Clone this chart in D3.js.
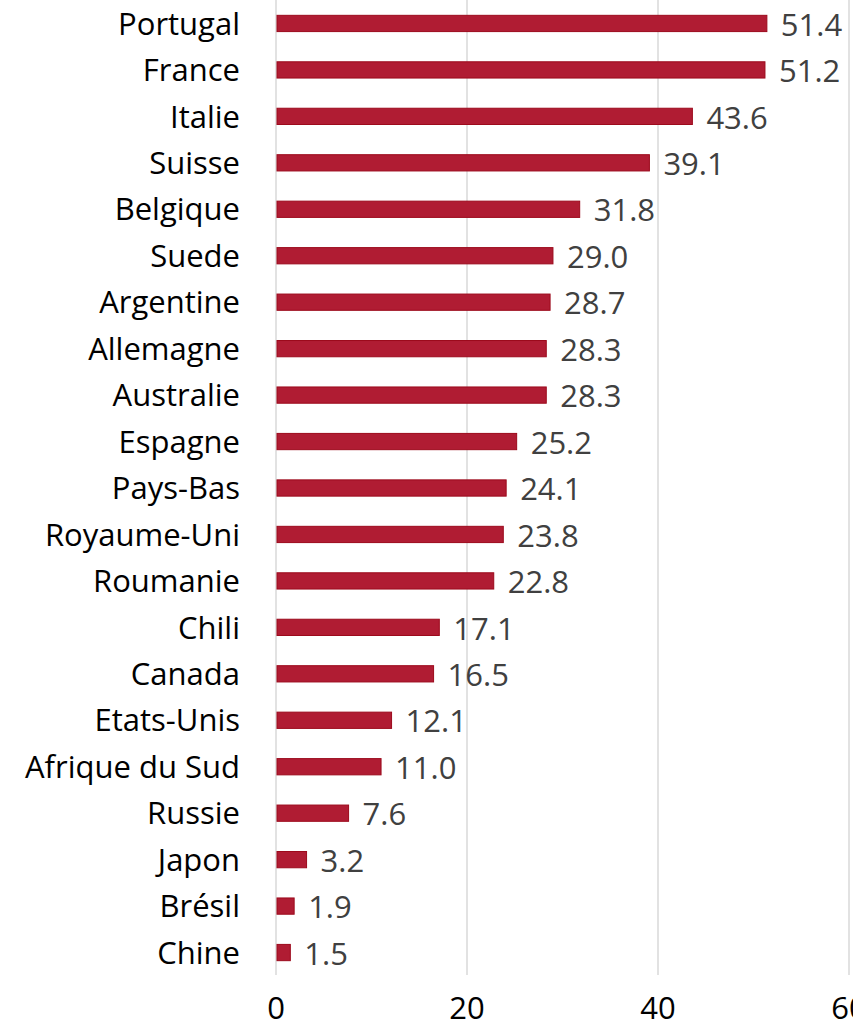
<!DOCTYPE html>
<html>
<head>
<meta charset="utf-8">
<script src="https://cdn.jsdelivr.net/npm/d3@7"></script>
<style>
body { margin: 0; background: #fff; }
svg { display: block; }
</style>
</head>
<body>
<svg id="chart" width="853" height="1028"></svg>
<script>
// data
var countries = ["Portugal", "France", "Italie", "Suisse", "Belgique", "Suede",
    "Argentine", "Allemagne", "Australie", "Espagne", "Pays-Bas", "Royaume-Uni",
    "Roumanie", "Chili", "Canada", "Etats-Unis", "Afrique du Sud", "Russie",
    "Japon", "Brésil", "Chine"];
var values = [51.4, 51.2, 43.6, 39.1, 31.8, 29.0, 28.7, 28.3, 28.3, 25.2, 24.1,
    23.8, 22.8, 17.1, 16.5, 12.1, 11.0, 7.6, 3.2, 1.9, 1.5];
var ticks = [0, 20, 40, 60];

var svg = d3.select("#chart");
var font = "'Open Sans', sans-serif";
var fsize = "31px";

var x = d3.scaleLinear().domain([0, 60]).range([276, 849]);
var y = d3.scaleBand().domain(countries).range([0, 976]).paddingInner(0.65).paddingOuter(0.33);

// grid lines
svg.selectAll("line.grid")
    .data(ticks)
    .enter()
    .append("line")
    .attr("class", "grid")
    .attr("x1", function(d) { return x(d); })
    .attr("x2", function(d) { return x(d); })
    .attr("y1", 0)
    .attr("y2", 975)
    .attr("stroke", "#d9d9d9")
    .attr("stroke-width", 1.5);

var rows = countries.map(function(c, i) { return [c, values[i]]; });

svg.selectAll("rect")
    .data(rows)
    .enter()
    .append("rect")
    .attr("x", x(0) + 1)
    .attr("y", function(d) { return y(d[0]); })
    .attr("width", function(d) { return x(d[1]) - x(0) - 1; })
    .attr("height", y.bandwidth())
    .attr("fill", "#b01c33")
    .attr("stroke", "#9c0a1c")
    .attr("stroke-width", 1);

// value labels
svg.selectAll("text.val")
    .data(rows)
    .enter()
    .append("text")
    .attr("class", "val")
    .attr("x", function(d) { return x(d[1]) + 14; })
    .attr("y", function(d) { return y(d[0]) + y.bandwidth() / 2 + 1; })
    .attr("dy", "0.36em")
    .attr("font-family", font)
    .attr("font-size", fsize)
    .attr("fill", "#404040")
    .text(function(d) { return d[1].toFixed(1); });

// category labels
svg.selectAll("text.cat")
    .data(countries)
    .enter()
    .append("text")
    .attr("class", "cat")
    .attr("x", 240)
    .attr("y", function(d) { return y(d) + y.bandwidth() / 2; })
    .attr("dy", "0.36em")
    .attr("text-anchor", "end")
    .attr("font-family", font)
    .attr("font-size", fsize)
    .attr("fill", "#000")
    .text(function(d) { return d; });

// x tick labels
svg.selectAll("text.tick")
    .data(ticks)
    .enter()
    .append("text")
    .attr("class", "tick")
    .attr("x", function(d) { return x(d); })
    .attr("y", 1019)
    .attr("text-anchor", "middle")
    .attr("font-family", font)
    .attr("font-size", fsize)
    .attr("fill", "#000")
    .text(function(d) { return d; });
</script>
</body>
</html>
